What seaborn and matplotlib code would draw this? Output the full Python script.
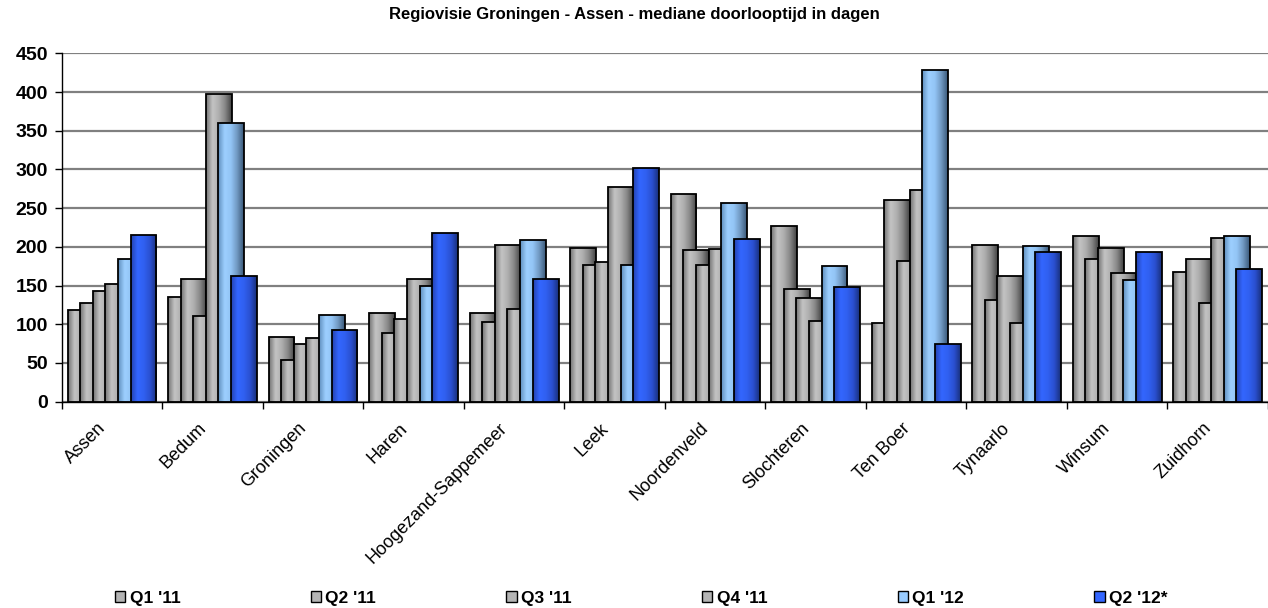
import numpy as np
import pandas as pd
import matplotlib
matplotlib.use('Agg')
import matplotlib.pyplot as plt
import matplotlib.transforms as mtransforms
from matplotlib.colors import LinearSegmentedColormap
from matplotlib.patches import Patch
import seaborn as sns

# data
gemeenten = ['Assen', 'Bedum', 'Groningen', 'Haren', 'Hoogezand-Sappemeer', 'Leek',
             'Noordenveld', 'Slochteren', 'Ten Boer', 'Tynaarlo', 'Winsum', 'Zuidhorn']
kwartalen = ["Q1 '11", "Q2 '11", "Q3 '11", "Q4 '11", "Q1 '12", "Q2 '12*"]

q1_11 = [119, 135, 83, 115, 114, 199, 268, 227, 102, 202, 214, 168]
q2_11 = [128, 158, 54, 89, 103, 176, 196, 145, 260, 131, 184, 184]
q3_11 = [143, 111, 75, 107, 203, 180, 177, 134, 182, 162, 198, 128]
q4_11 = [152, 398, 82, 158, 120, 277, 197, 104, 274, 102, 166, 211]
q1_12 = [184, 360, 112, 149, 209, 176, 257, 175, 429, 201, 157, 214]
q2_12 = [215, 162, 93, 218, 158, 302, 210, 148, 75, 194, 194, 171]

series = [q1_11, q2_11, q3_11, q4_11, q1_12, q2_12]

df = pd.DataFrame({
    'gemeente': np.tile(gemeenten, len(kwartalen)),
    'kwartaal': np.repeat(kwartalen, len(gemeenten)),
    'dagen': np.concatenate(series),
})

base_colors = ['#b4b4b4', '#b4b4b4', '#b4b4b4', '#b4b4b4', '#99ccff', '#3366ff']
gray_grad = ['#747474', '#c4c4c4', '#aeaeae', '#858585', '#424242']
lblue_grad = ['#5f8fbd', '#9dcfff', '#93c5f5', '#6f97c0', '#3a5878']
blue_grad = ['#2443b0', '#3366ff', '#3060f0', '#2a4fcf', '#18307a']
gradients = [gray_grad] * 4 + [lblue_grad, blue_grad]

sns.set_theme(style='white')
plt.rcParams['font.family'] = ['Liberation Sans', 'DejaVu Sans']
plt.rcParams['text.color'] = 'black'
plt.rcParams['xtick.color'] = 'black'
plt.rcParams['ytick.color'] = 'black'

fig = plt.figure(figsize=(12.68, 6.08), dpi=100)
W, H = 1268, 608
left_px, bottom_px, top_px = 61.7, 401.7, 53.3
ax = fig.add_axes([left_px / W, 1 - bottom_px / H, 1 - left_px / W, (bottom_px - top_px) / H])

step = 0.1255
sns.barplot(data=df, x='gemeente', y='dagen', hue='kwartaal', order=gemeenten,
            hue_order=kwartalen, palette=base_colors, width=6 * step, gap=0,
            saturation=1, legend=False, ax=ax)

# widen the dodged bars so they overlap like the original, and fill with a gradient
bar_w = 0.257
for s, cont in enumerate(ax.containers):
    cmap = LinearSegmentedColormap.from_list('g%d' % s, gradients[s])
    grad = np.linspace(0, 1, 64).reshape(1, -1)
    z = 2 + s * 0.1
    for rect in cont.patches:
        cx = rect.get_x() + rect.get_width() / 2
        rect.set_x(cx - bar_w / 2)
        rect.set_width(bar_w)
        rect.set_facecolor('none')
        rect.set_edgecolor('black')
        rect.set_linewidth(1.3)
        rect.set_zorder(z + 0.02)
        im = ax.imshow(grad, cmap=cmap, aspect='auto', interpolation='bicubic',
                       extent=[cx - bar_w / 2, cx + bar_w / 2, 0, rect.get_height()],
                       zorder=z + 0.01)
        im.set_clip_path(rect)

ncat = (W - left_px) / 101.2
ax.set_xlim(-0.5, -0.5 + ncat)
ax.set_ylim(0, 450)
ax.set_yticks(np.arange(0, 451, 50))
ax.set_xlabel('')
ax.set_ylabel('')

ax.grid(axis='y', color='#808080', linewidth=1.6, zorder=0)
ax.set_axisbelow(True)
for side in ['top', 'right']:
    ax.spines[side].set_visible(False)
ax.spines['left'].set_color('black')
ax.spines['left'].set_linewidth(1.0)
ax.spines['bottom'].set_color('black')
ax.spines['bottom'].set_linewidth(1.0)

ax.tick_params(axis='y', which='major', left=True, length=5, width=1, color='black',
               labelsize=14, pad=5)
for lab in ax.get_yticklabels():
    lab.set_fontweight('bold')

ax.set_xticks(np.arange(-0.5, 12, 1), minor=True)
ax.tick_params(axis='x', which='minor', bottom=True, length=5, width=1, color='black')
ax.tick_params(axis='x', which='major', bottom=False, length=0, labelsize=13, pad=13)
offset = mtransforms.ScaledTranslation(-15 / 100, 0, fig.dpi_scale_trans)
for lab in ax.get_xticklabels():
    lab.set_rotation(45)
    lab.set_ha('right')
    lab.set_rotation_mode('anchor')
    lab.set_transform(lab.get_transform() + offset)

fig.text(0.5, 1 - 14 / H, 'Regiovisie Groningen - Assen - mediane doorlooptijd in dagen',
         ha='center', va='center', fontsize=12, fontweight='bold')

handles = [Patch(facecolor=c, edgecolor='black', linewidth=1) for c in base_colors]
fig.legend(handles, kwartalen, loc='center left', bbox_to_anchor=(115 / W, 1 - 598 / H),
           ncol=6, frameon=False, handlelength=0.6, handleheight=0.6, handletextpad=0.25,
           columnspacing=7.5, borderpad=0, borderaxespad=0,
           prop={'weight': 'bold', 'size': 12.5})

fig.savefig('out.png', dpi=100)
